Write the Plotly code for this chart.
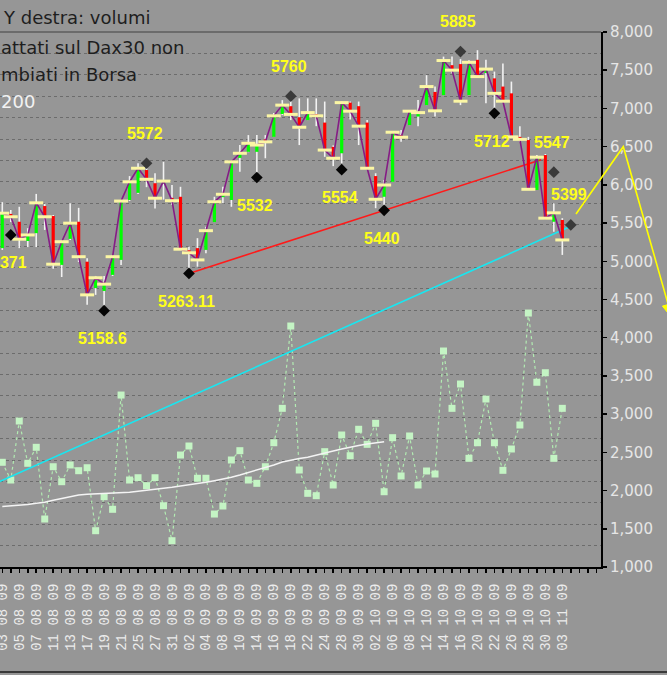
import plotly.graph_objects as go

# ---------------- data ----------------
dates = [
    "03 08 09", "04 08 09", "05 08 09", "06 08 09", "07 08 09", "10 08 09", "11 08 09", "12 08 09",
    "13 08 09", "14 08 09", "17 08 09", "18 08 09", "19 08 09", "20 08 09", "21 08 09", "24 08 09",
    "25 08 09", "26 08 09", "27 08 09", "28 08 09", "31 08 09",
    "01 09 09", "02 09 09", "03 09 09", "04 09 09", "07 09 09", "08 09 09", "09 09 09", "10 09 09",
    "11 09 09", "14 09 09", "15 09 09", "16 09 09", "17 09 09", "18 09 09", "21 09 09", "22 09 09",
    "23 09 09", "24 09 09", "25 09 09", "28 09 09", "29 09 09", "30 09 09",
    "01 10 09", "02 10 09", "05 10 09", "06 10 09", "07 10 09", "08 10 09", "09 10 09", "12 10 09",
    "13 10 09", "14 10 09", "15 10 09", "16 10 09", "19 10 09", "20 10 09", "21 10 09", "22 10 09",
    "23 10 09", "26 10 09", "27 10 09", "28 10 09", "29 10 09", "30 10 09",
    "02 11 09", "03 11 09",
]

price_open = [5334, 5430, 5408, 5354, 5376, 5452, 5424, 5287, 5360, 5408,
              5296, 5222, 5214, 5259, 5301, 5469, 5489, 5553, 5516, 5515,
              5475, 5478, 5328, 5334, 5329, 5407, 5477, 5469, 5587, 5604,
              5604, 5639, 5646, 5710, 5732, 5701, 5693, 5710, 5686, 5618,
              5600, 5742, 5732, 5686, 5536, 5478, 5520, 5651, 5679, 5703,
              5735, 5772, 5763, 5847, 5850, 5763, 5862, 5825, 5810, 5787,
              5768, 5646, 5637, 5497, 5595, 5408, 5413]
price_high = [5463, 5441, 5450, 5390, 5486, 5458, 5427, 5357, 5460, 5447,
              5306, 5256, 5256, 5315, 5469, 5536, 5572, 5559, 5544, 5576,
              5511, 5506, 5338, 5362, 5394, 5478, 5506, 5578, 5623, 5651,
              5651, 5651, 5713, 5749, 5757, 5754, 5754, 5754, 5745, 5622,
              5745, 5745, 5745, 5693, 5544, 5525, 5660, 5665, 5721, 5749,
              5819, 5787, 5871, 5871, 5864, 5861, 5889, 5862, 5829, 5852,
              5801, 5676, 5646, 5595, 5598, 5460, 5418]
price_low = [5329, 5407, 5334, 5337, 5337, 5385, 5276, 5253, 5357, 5295,
             5175, 5203, 5170, 5256, 5287, 5466, 5486, 5505, 5445, 5470,
             5455, 5329, 5273, 5282, 5320, 5407, 5460, 5450, 5548, 5603,
             5540, 5586, 5646, 5707, 5693, 5623, 5693, 5676, 5590, 5564,
             5572, 5695, 5623, 5558, 5446, 5447, 5520, 5632, 5679, 5676,
             5735, 5703, 5763, 5824, 5735, 5763, 5812, 5740, 5727, 5744,
             5646, 5632, 5497, 5497, 5418, 5380, 5315]
price_close = [5432, 5422, 5359, 5371, 5461, 5422, 5289, 5352, 5404, 5310,
               5203, 5251, 5233, 5310, 5466, 5520, 5558, 5527, 5474, 5522,
               5467, 5331, 5321, 5301, 5383, 5464, 5485, 5576, 5600, 5628,
               5623, 5632, 5705, 5735, 5709, 5673, 5714, 5705, 5609, 5586,
               5742, 5718, 5676, 5558, 5471, 5511, 5659, 5645, 5718, 5714,
               5787, 5719, 5860, 5833, 5746, 5855, 5815, 5836, 5768, 5746,
               5646, 5639, 5499, 5589, 5418, 5433, 5357]

volume = [2370, 2138, 2910, 2357, 2566, 1628, 2312, 2116, 2335, 2260,
          2299, 1475, 1920, 1755, 3250, 2138, 2168, 2064, 2168, 1802,
          1344, 2465, 2583, 2161, 2161, 1693, 1798, 2400, 2522, 2138,
          2095, 2312, 2626, 3076, 4153, 2269, 1964, 1933, 2509, 2073,
          2727, 2456, 2802, 2605, 2880, 1985, 2692, 2191, 2714, 2073,
          2256, 2217, 3826, 3076, 3394, 2422, 2626, 3198, 2626, 2265,
          2544, 2858, 4323, 3417, 3542, 2422, 3076]

volume_avg = [1790, 1798, 1807, 1818, 1833, 1848, 1874, 1896, 1922, 1942,
              1951, 1955, 1959, 1963, 1968, 1979, 1992, 2004, 2014, 2027,
              2043, 2060, 2073, 2089, 2108, 2130, 2151, 2174, 2204, 2236,
              2269, 2295, 2335, 2374, 2400, 2420, 2435, 2465, 2492, 2518,
              2544, 2570, 2590, 2609, 2625, 2639]

pivot_idx = [1, 12, 17, 22, 30, 34, 40, 45, 54, 58, 65, 67]
pivot_val = [5371, 5158.6, 5572, 5263.11, 5532, 5760, 5554, 5440, 5885, 5712, 5547, 5399]
pivot_kind = ["low", "low", "high", "low", "low", "high", "low", "low", "high", "low", "high", "high"]

red_trend_x = [22, 63.5]
red_trend_y = [5263.11, 5582]
cyan_trend_x = [-1, 66.8]
cyan_trend_y = [4672, 5393]

volume_ticks = list(range(1000, 8001, 500))

# ---------------- figure ----------------
n = len(dates)
idx = list(range(n))
BG = "#969696"

W, H = 667, 675
ML, MR, MT, MB = 0, 66, 32, 108
PW, PH = W - ML - MR, H - MT - MB


def pxx(x):
    return (x - ML) / PW


def pxy(y):
    return (MT + PH - y) / PH


fig = go.Figure()

# volumes (right axis)
fig.add_trace(go.Scatter(
    x=idx, y=volume, mode="lines+markers", yaxis="y",
    line=dict(color="#b2ebb2", width=1.2, dash="3px,3px"),
    marker=dict(symbol="square", size=7, color="#c4f4c4"),
    hoverinfo="skip", showlegend=False))
fig.add_trace(go.Scatter(
    x=idx[:len(volume_avg)], y=volume_avg, mode="lines", yaxis="y",
    line=dict(color="#f4f4f4", width=1.5), hoverinfo="skip", showlegend=False))

# trend lines (price axis)
fig.add_trace(go.Scatter(
    x=cyan_trend_x, y=cyan_trend_y, mode="lines", yaxis="y2",
    line=dict(color="#19e6f0", width=1.6), hoverinfo="skip", showlegend=False))
fig.add_trace(go.Scatter(
    x=red_trend_x, y=red_trend_y, mode="lines", yaxis="y2",
    line=dict(color="#ff1a1a", width=1.6), hoverinfo="skip", showlegend=False))

# wicks
wx, wy = [], []
for i in idx:
    wx += [i, i, None]
    wy += [price_low[i], price_high[i], None]
fig.add_trace(go.Scatter(x=wx, y=wy, mode="lines", yaxis="y2",
                         line=dict(color="#f2f2f2", width=1.6),
                         hoverinfo="skip", showlegend=False))

# bodies
gx, gy, rx, ry = [], [], [], []
for i in idx:
    if price_close[i] >= price_open[i]:
        gx += [i, i, None]
        gy += [price_open[i], price_close[i], None]
    else:
        rx += [i, i, None]
        ry += [price_open[i], price_close[i], None]
fig.add_trace(go.Scatter(x=gx, y=gy, mode="lines", yaxis="y2",
                         line=dict(color="#00ff00", width=3.2),
                         hoverinfo="skip", showlegend=False))
fig.add_trace(go.Scatter(x=rx, y=ry, mode="lines", yaxis="y2",
                         line=dict(color="#ff0000", width=3.2),
                         hoverinfo="skip", showlegend=False))

# close line
fig.add_trace(go.Scatter(x=idx, y=price_close, mode="lines", yaxis="y2",
                         line=dict(color="#851c85", width=1.6),
                         hoverinfo="skip", showlegend=False))
# close caps
fig.add_trace(go.Scatter(x=idx, y=price_close, mode="markers", yaxis="y2",
                         marker=dict(symbol="line-ew", size=10, color="#fbf6a4",
                                     line=dict(color="#fbf6a4", width=3)),
                         hoverinfo="skip", showlegend=False))

# pivots
fig.add_trace(go.Scatter(
    x=pivot_idx, y=pivot_val, mode="markers", yaxis="y2",
    marker=dict(symbol="diamond", size=9,
                color=["#3a3a3a" if k == "high" else "#050505" for k in pivot_kind]),
    hoverinfo="skip", showlegend=False))

annotations = []
for i, v, k in zip(pivot_idx, pivot_val, pivot_kind):
    annotations.append(dict(
        x=i, y=v, xref="x", yref="y2", text=f"{v:g}", showarrow=False,
        xshift=-2, yshift=30 if k == "high" else -28,
        font=dict(family="Liberation Sans", size=16, color="#ffff1a", weight="bold")))

# header texts
annotations += [
    dict(x=pxx(1), y=pxy(18), xref="paper", yref="paper", text="Y destra: volumi",
         showarrow=False, xanchor="left", yanchor="middle",
         font=dict(family="DejaVu Sans", size=18, color="#1e1e1e")),
    dict(x=pxx(-1), y=pxy(47), xref="paper", yref="paper", text="attati sul Dax30 non",
         showarrow=False, xanchor="left", yanchor="middle",
         font=dict(family="DejaVu Sans", size=18, color="#1e1e1e")),
    dict(x=pxx(-1), y=pxy(74), xref="paper", yref="paper", text="mbiati in Borsa",
         showarrow=False, xanchor="left", yanchor="middle",
         font=dict(family="DejaVu Sans", size=18, color="#1e1e1e")),
    dict(x=pxx(-1), y=pxy(101), xref="paper", yref="paper", text="200",
         showarrow=False, xanchor="left", yanchor="middle",
         font=dict(family="DejaVu Sans", size=18, color="#f2f2f2")),
]

# yellow hand-drawn arrow (polyline + triangular head), in paper coordinates
arrow_pts = [(576, 214), (623.3, 146.7), (672, 318)]
head_pts = [(672, 318), (662.4, 306.1), (674.0, 302.9)]


def path_of(points, close=False):
    s = "M " + " L ".join(f"{pxx(x):.5f},{pxy(y):.5f}" for x, y in points)
    return s + (" Z" if close else "")


shapes = [
    dict(type="path", xref="paper", yref="paper", path=path_of(arrow_pts),
         line=dict(color="#ffff00", width=1.6)),
    dict(type="path", xref="paper", yref="paper", path=path_of(head_pts, close=True),
         line=dict(color="#ffff00", width=1), fillcolor="#ffff00"),
    dict(type="line", xref="paper", yref="paper", x0=0, y0=1, x1=1, y1=1,
         line=dict(color="#5c5c5c", width=1.5)),
    dict(type="line", xref="paper", yref="paper", x0=0, y0=pxy(672), x1=pxx(W), y1=pxy(672),
         line=dict(color="#3a3a3a", width=2)),
]

ticktext = [dates[i] if (i < n and i % 2 == 0) else "" for i in range(71)]

fig.update_layout(
    width=W, height=H,
    margin=dict(l=ML, r=MR, t=MT, b=MB, pad=0, autoexpand=False),
    paper_bgcolor=BG, plot_bgcolor=BG,
    showlegend=False,
    xaxis=dict(
        type="linear", range=[-0.27, 70.56], automargin=False,
        tickmode="array", tickvals=list(range(71)), ticktext=ticktext,
        tickangle=-90, ticks="outside", ticklen=4, tickwidth=1.5, tickcolor="#000000",
        tickfont=dict(family="Liberation Mono", size=14, color="#ececec"),
        ticklabelstandoff=5, ticklabeloverflow="allow",
        showline=True, linecolor="#000000", linewidth=2,
        showgrid=False, zeroline=False),
    yaxis=dict(
        side="right", range=[1000, 8000], tickmode="array", tickvals=volume_ticks,
        automargin=False,
        tickformat=",d", ticks="outside", ticklen=4, tickwidth=1.5, tickcolor="#000000",
        tickfont=dict(family="DejaVu Sans", size=15, color="#e6e6e6"),
        ticklabelstandoff=0, ticklabeloverflow="allow",
        showline=True, linecolor="#000000", linewidth=2,
        showgrid=False, zeroline=False),
    yaxis2=dict(
        overlaying="y", side="left", range=[4440, 5940], tick0=4440, dtick=60,
        automargin=False,
        showticklabels=False, ticks="", showline=False, zeroline=False,
        showgrid=True, gridcolor="#6c6c6c", gridwidth=1, griddash="3px,3px"),
    annotations=annotations,
    shapes=shapes,
)

fig.write_html(
    "out.html",
    config={"displayModeBar": False, "staticPlot": True},
    post_script="document.body.style.margin='0px';document.body.style.padding='0px';"
                "document.body.style.background='" + BG + "';",
)
